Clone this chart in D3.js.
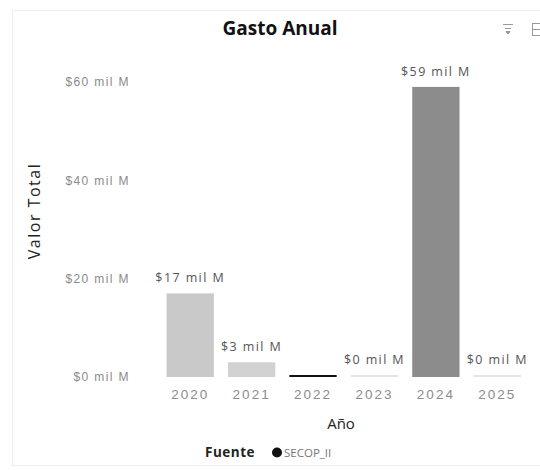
<!DOCTYPE html>
<html><head><meta charset="utf-8">
<script src="https://cdn.jsdelivr.net/npm/d3@7"></script>
<style>
body{margin:0;background:#fff;}
svg{display:block;font-family:"Segoe UI","Open Sans","Noto Sans",sans-serif;}
</style></head>
<body><svg id="c" width="540" height="470"></svg>
<script>
const years = ["2020","2021","2022","2023","2024","2025"];
const values = [17, 3, 0.4, 0.1, 59, 0.1];
const valueLabels = ["$17 mil M","$3 mil M","","$0 mil M","$59 mil M","$0 mil M"];
const yTicks = [0, 20, 40, 60];
const yTickLabels = ["$0 mil M","$20 mil M","$40 mil M","$60 mil M"];
const legendTitle = "Fuente";
const legendItems = ["SECOP_II"];

const barColors = ["#c9c9c9","#d2d2d2","#111111","#e4e4e4","#8c8c8c","#e4e4e4"];

const svg = d3.select("#c");
// faint visual border
svg.append("rect").attr("x",12.5).attr("y",10.5).attr("width",540).attr("height",455)
  .attr("fill","none").attr("stroke","#ededed");

svg.append("text").attr("x",280).attr("y",35).attr("text-anchor","middle")
  .attr("font-size",19).attr("font-weight","bold").attr("fill","#111").text("Gasto Anual");

// header icons
const ic = svg.append("g").attr("stroke","#999").attr("fill","none").attr("stroke-width",1);
ic.append("line").attr("x1",503).attr("x2",513).attr("y1",24.5).attr("y2",24.5);
ic.append("line").attr("x1",505).attr("x2",511).attr("y1",28.5).attr("y2",28.5);
ic.append("path").attr("d","M506,31.5 L510,31.5 L508,34 Z").attr("fill","#999");
ic.append("rect").attr("x",532.5).attr("y",23.5).attr("width",10).attr("height",12);
ic.append("line").attr("x1",532).attr("x2",542).attr("y1",29.5).attr("y2",29.5);

const x = d3.scaleBand().domain(years).range([159.5, 528]).paddingInner(0.23).paddingOuter(0.115);
const y = d3.scaleLinear().domain([0, 60]).range([377, 82]);

// y axis tick labels
const yAxis = d3.axisLeft(y).tickValues(yTicks).tickSize(0).tickPadding(0)
  .tickFormat((d,i)=>yTickLabels[i]);
const ga = svg.append("g").attr("transform","translate(130,0)").call(yAxis);
ga.select(".domain").remove();
ga.selectAll("text").attr("font-size",12).attr("letter-spacing","1.4px")
  .attr("fill","#8a8a8a").attr("font-family","inherit");

// x axis tick labels
const xAxis = d3.axisBottom(x).tickSize(0).tickPadding(0);
const gx = svg.append("g").attr("transform","translate(0,389)").call(xAxis);
gx.select(".domain").remove();
gx.selectAll("text").attr("font-size",13.5).attr("letter-spacing","2px")
  .attr("fill","#8c8c8c").attr("font-family","inherit");

// bars
svg.append("g").selectAll("rect").data(values).join("rect")
  .attr("x",(d,i)=>x(years[i]))
  .attr("width",x.bandwidth())
  .attr("y",d=>Math.min(y(d), y(0)-2))
  .attr("height",d=>Math.max(y(0)-y(d),2))
  .attr("fill",(d,i)=>barColors[i]);

// data labels
svg.append("g").selectAll("text").data(values).join("text")
  .attr("x",(d,i)=>x(years[i])+x.bandwidth()/2)
  .attr("y",d=>Math.min(y(d), y(0)-2)-11)
  .attr("text-anchor","middle").attr("font-size",12.5).attr("letter-spacing","1.4px")
  .attr("fill","#555")
  .text((d,i)=>valueLabels[i]);

// axis titles
svg.append("text").attr("x",341).attr("y",429).attr("text-anchor","middle")
  .attr("font-size",15).attr("fill","#222").text("Año");
svg.append("text").attr("transform","translate(40,211) rotate(-90)").attr("text-anchor","middle")
  .attr("font-size",16).attr("letter-spacing","1.5px").attr("fill","#222").text("Valor Total");

// legend
const lg = svg.append("g");
lg.append("text").attr("x",205).attr("y",457).attr("font-size",13.5).attr("font-weight","bold")
  .attr("letter-spacing","0.5px").attr("fill","#222").text(legendTitle);
legendItems.forEach((t,i)=>{
  lg.append("circle").attr("cx",277).attr("cy",452.5).attr("r",5).attr("fill","#111");
  lg.append("text").attr("x",284).attr("y",457).attr("font-size",11.5).attr("fill","#777").text(t);
});
</script></body></html>
